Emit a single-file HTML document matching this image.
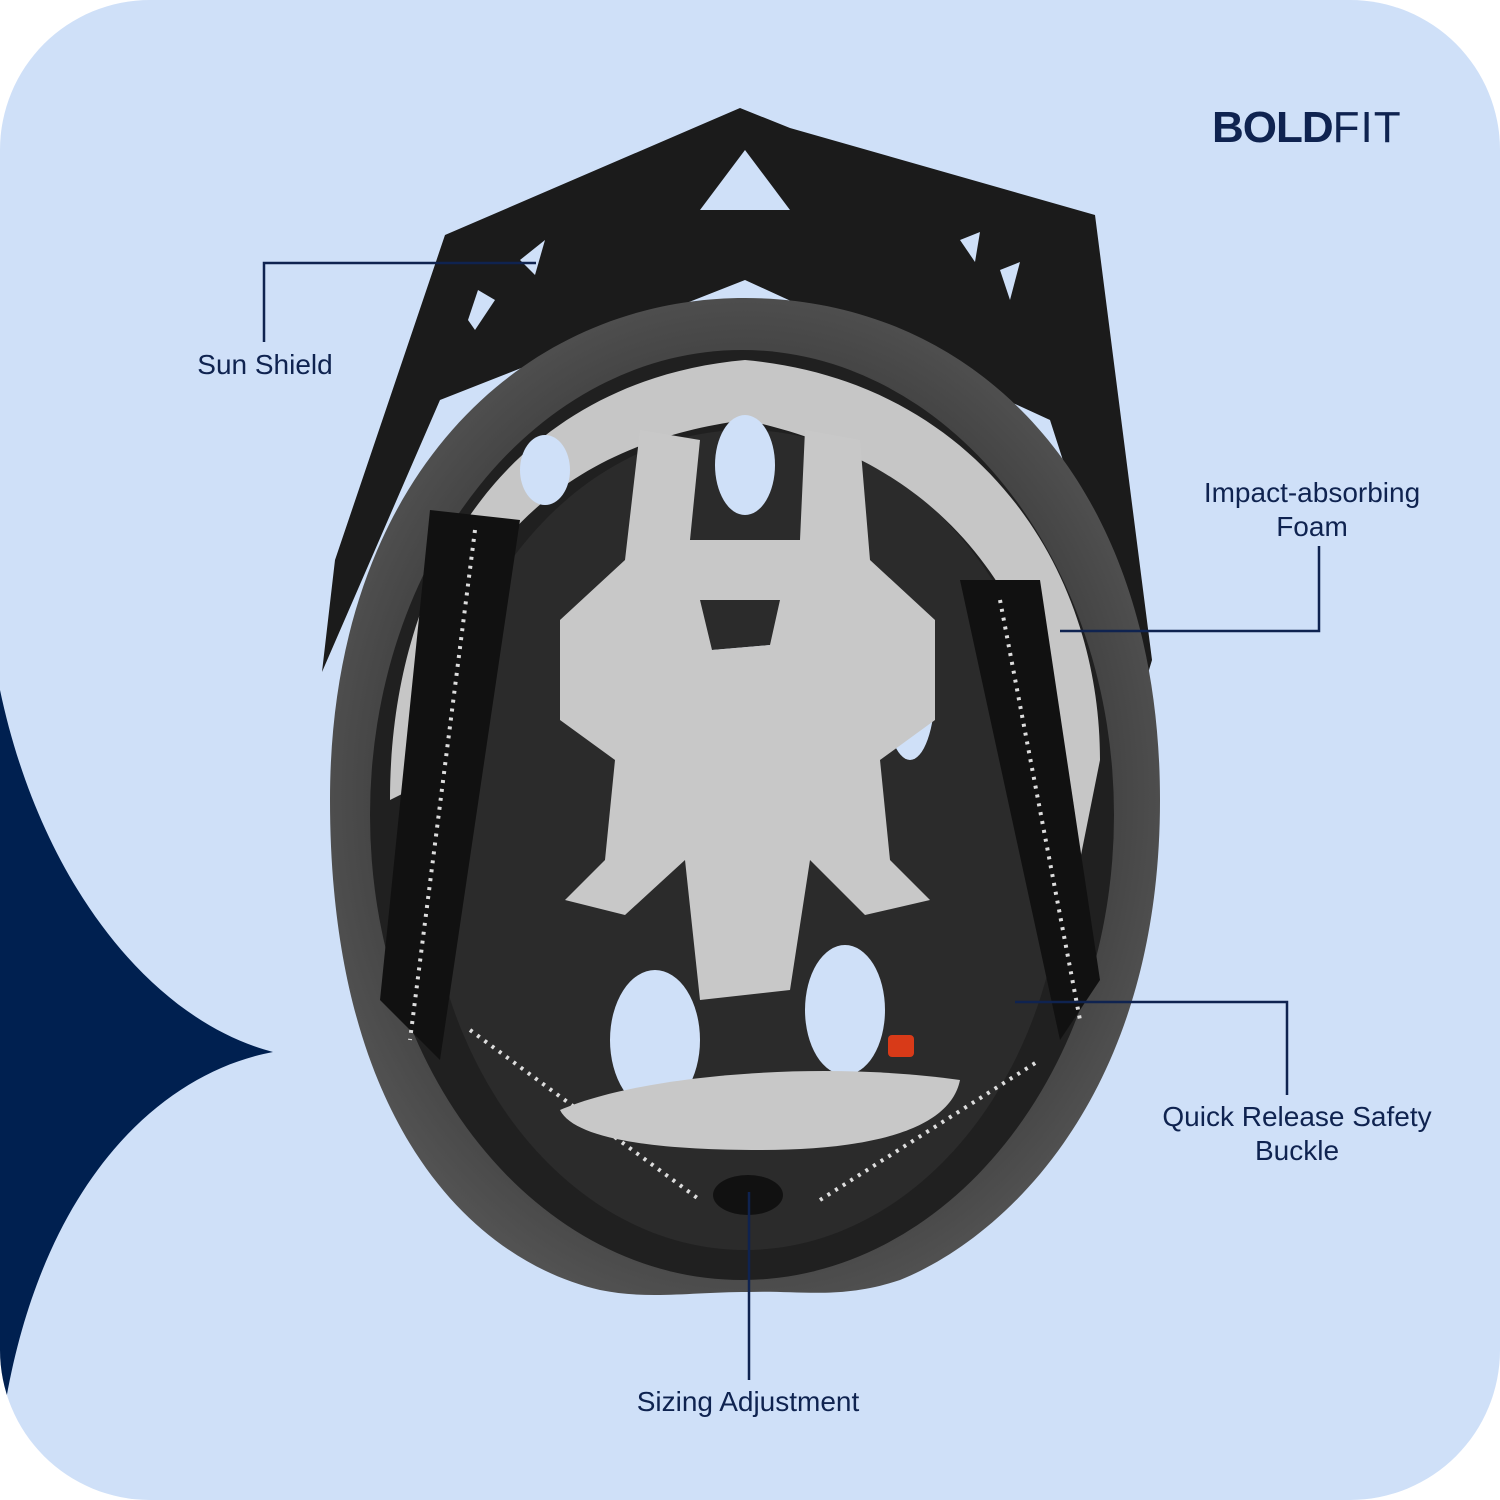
<!DOCTYPE html>
<html><head><meta charset="utf-8"><style>
html,body{margin:0;padding:0;background:#fff}
#p{position:relative;width:1500px;height:1500px;overflow:hidden;background:#fff}
.lbl{position:absolute;font-family:"Liberation Sans",sans-serif;font-size:28px;color:#0f2350;text-align:center;line-height:34px;white-space:nowrap}
</style></head><body><div id="p">
<svg width="1500" height="1500" viewBox="0 0 1500 1500" style="position:absolute;left:0;top:0">
<defs>
<clipPath id="c"><rect x="0" y="0" width="1500" height="1500" rx="150" ry="150"/></clipPath>
<radialGradient id="fg" cx="0.5" cy="0.5" r="0.55"><stop offset="0.7" stop-color="#3c3c3c"/><stop offset="1" stop-color="#555"/></radialGradient>
</defs>
<g clip-path="url(#c)">
<rect width="1500" height="1500" fill="#cfe0f8"/>
<path d="M0,690 C40,880 150,1020 273,1052 C150,1075 30,1200 0,1440 Z" fill="#002050"/>
</g>
<polygon points="322,672 335,560 445,235 740,108 790,128 1095,215 1152,660 1140,700 1050,420 745,280 440,400" fill="#1b1b1b"/>
<g fill="#cfe0f8">
<polygon points="700,210 745,150 790,210"/>
<polygon points="468,320 478,290 495,300 475,330"/>
<polygon points="1000,270 1020,262 1010,300"/>
<polygon points="520,260 545,240 535,275"/>
<polygon points="960,240 980,232 975,262"/>
</g>
<path d="M330,800 C330,480 520,298 745,298 C975,298 1160,480 1160,800 C1160,1100 1000,1240 900,1280 C840,1300 800,1290 748,1292 C690,1292 650,1300 600,1290 C470,1260 330,1120 330,800 Z" fill="url(#fg)"/>
<ellipse cx="742" cy="815" rx="372" ry="465" fill="#202020"/>
<ellipse cx="745" cy="840" rx="320" ry="410" fill="#2b2b2b"/>
<path d="M390,800 C390,560 520,380 745,360 C970,380 1100,560 1100,760 L1080,860 C1060,640 980,470 745,420 C520,450 430,600 410,790 Z" fill="#c6c6c6"/>
<g fill="#cfe0f8">
<ellipse cx="745" cy="465" rx="30" ry="50"/>
<path d="M712,650 L770,645 L742,820 Z"/>
<ellipse cx="655" cy="1040" rx="45" ry="70"/>
<ellipse cx="845" cy="1010" rx="40" ry="65"/>
<ellipse cx="910" cy="690" rx="25" ry="70"/>
<ellipse cx="545" cy="470" rx="25" ry="35"/>
</g>
<!-- central trident mesh -->
<path d="M640,430 L700,440 L690,540 L800,540 L805,430 L860,440 L870,560 L935,620 L935,720 L880,760 L890,860 L930,900 L865,915 L810,860 L790,990 L700,1000 L685,860 L625,915 L565,900 L605,860 L615,760 L560,720 L560,620 L625,560 Z M700,600 L712,650 L770,645 L780,600 Z" fill="#c8c8c8" fill-rule="evenodd"/>
<path d="M430,510 L520,520 L440,1060 L380,1000 Z" fill="#111"/>
<path d="M960,580 L1040,580 L1100,980 L1060,1040 Z" fill="#111"/>
<g stroke="#ddd" stroke-width="4" stroke-dasharray="3,6">
<line x1="475" y1="530" x2="410" y2="1040"/>
<line x1="1000" y1="600" x2="1080" y2="1020"/>
<line x1="470" y1="1030" x2="700" y2="1200"/>
<line x1="820" y1="1200" x2="1040" y2="1060"/>
</g>
<path d="M560,1110 C640,1075 820,1060 960,1080 C950,1130 870,1150 760,1150 C660,1150 575,1140 560,1110 Z" fill="#c8c8c8"/>
<rect x="888" y="1035" width="26" height="22" rx="4" fill="#d83a18"/>
<ellipse cx="748" cy="1195" rx="35" ry="20" fill="#111"/>
<g stroke="#0f2350" stroke-width="2.5" fill="none">
<polyline points="264,342 264,263 536,263"/>
<polyline points="1319,546 1319,631 1060,631"/>
<polyline points="1287,1095 1287,1002 1015,1002"/>
<line x1="749" y1="1192" x2="749" y2="1380"/>
</g>
</svg>
<div class="lbl" style="left:180px;top:348px;width:170px">Sun Shield</div>
<div class="lbl" style="left:1162px;top:476px;width:300px">Impact-absorbing<br>Foam</div>
<div class="lbl" style="left:1127px;top:1100px;width:340px">Quick Release Safety<br>Buckle</div>
<div class="lbl" style="left:598px;top:1385px;width:300px">Sizing Adjustment</div>
<div style="position:absolute;left:1212px;top:104px;font-family:'Liberation Sans',sans-serif;font-size:44px;color:#0f2350;line-height:48px;white-space:nowrap"><b style="letter-spacing:-1px">BOLD</b><span style="font-weight:300;letter-spacing:1px">FIT</span></div>
</div></body></html>
